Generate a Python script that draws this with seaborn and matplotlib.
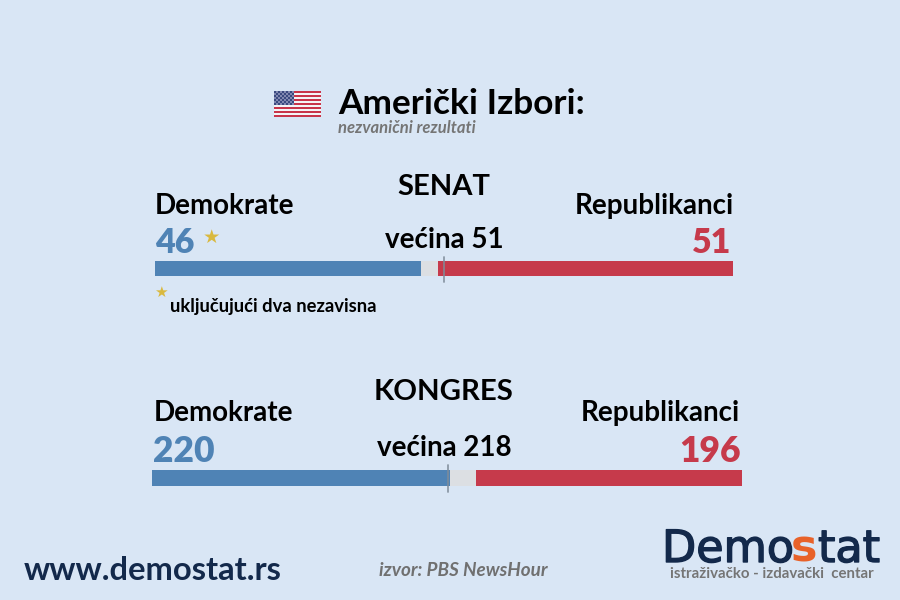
import numpy as np
import pandas as pd
import seaborn as sns
import matplotlib.pyplot as plt
import matplotlib.patheffects as pe
from matplotlib.colors import ListedColormap

# Seats
parties = ["Demokrate", "Republikanci"]
senate_seats = [46, 51]
senate_total = 100
senate_line = 50
house_seats = [220, 196]
house_total = 435
house_line = 218

BG = "#d9e6f5"
BLUE = "#4f83b5"
RED = "#c63a4b"
GRAY = "#dcdfe3"
NAVY = "#13294b"

sns.set_theme(style="white")
plt.rcParams["font.family"] = ["Lato", "DejaVu Sans"]

fig = plt.figure(figsize=(9, 6), dpi=100, facecolor=BG)


def txt(x, y, s, size, color="black", weight="bold", ha="left", **kw):
    # x, y are picture pixels, y is the baseline
    fig.text(x / 900, 1 - y / 600, s, fontsize=size, color=color, fontweight=weight,
             ha=ha, va="baseline", **kw)


def seat_bar(left, right, top, bottom, seats, total, line, line_top, line_bottom):
    ax = fig.add_axes([left / 900, 1 - bottom / 600, (right - left) / 900, (bottom - top) / 600])
    df = pd.DataFrame({"row": ["x"], "dem": [seats[0]], "rep": [seats[1]], "total": [total]})
    sns.barplot(data=df, x="total", y="row", color=GRAY, saturation=1, width=1, linewidth=0, ax=ax)
    sns.barplot(data=df, x="dem", y="row", color=BLUE, saturation=1, width=1, linewidth=0, ax=ax)
    sns.barplot(data=df, x="rep", y="row", color=RED, saturation=1, width=1, linewidth=0, ax=ax,
                left=total - seats[1])
    ax.set_xlim(0, total)
    ax.axis("off")
    # majority line sticks out of the bar
    pad_top = (top - line_top) / (bottom - top)
    pad_bottom = (line_bottom - bottom) / (bottom - top)
    ax.plot([line, line], [-pad_bottom, 1 + pad_top], transform=ax.get_xaxis_transform(),
            color="#7f8c99", lw=1.3, alpha=0.85, clip_on=False)


# Flag
flag_ax = fig.add_axes([274 / 900, 1 - 117 / 600, 47 / 900, 26 / 600])
flag = np.zeros((13, 24), dtype=int)
flag[1::2, :] = 1
flag[:7, :10] = 2
flag[:7, :10] += (np.indices((7, 10)).sum(axis=0) % 2)
sns.heatmap(flag, cmap=ListedColormap(["#c8354a", "#f4f4f6", "#3a4a80", "#8088b0"]),
            vmin=0, vmax=3, cbar=False, xticklabels=False, yticklabels=False, ax=flag_ax)

# Header
txt(338, 114, "Američki Izbori:", 25.4)
txt(338, 133, "nezvanični rezultati", 12, color="#757575", style="italic")

# Senat
txt(444, 195, "SENAT", 21, ha="center")
txt(155, 214, parties[0], 20)
txt(734, 214, parties[1], 20, ha="right")
txt(155, 253, str(senate_seats[0]), 24.5, color=BLUE, weight="heavy")
txt(731, 253, str(senate_seats[1]), 24.5, color=RED, ha="right", weight="heavy")
txt(444.5, 247.5, "većina 51", 20, ha="center")
txt(203, 243, "★", 14, color="#d9b93f", family="DejaVu Sans")
txt(154, 297, "★", 11, color="#d9b93f", family="DejaVu Sans")
txt(170, 312, "uključujući dva nezavisna", 13.2)
seat_bar(155, 733, 260, 277, senate_seats, senate_total, senate_line, 257, 282)

# Kongres
txt(444, 400, "KONGRES", 21.2, ha="center")
txt(154, 421, parties[0], 20)
txt(740, 421, parties[1], 20, ha="right")
txt(153, 462, str(house_seats[0]), 25.5, color=BLUE, weight="heavy")
txt(741, 462, str(house_seats[1]), 25.5, color=RED, ha="right", weight="heavy")
txt(444, 456.5, "većina 218", 20, ha="center")
seat_bar(152, 742, 469, 487, house_seats, house_total, house_line, 465, 492)

# Footer
txt(24, 580, "www.demostat.rs", 23.6, color=NAVY)
txt(379, 576.5, "izvor: PBS NewsHour", 13.6, color="#707070", style="italic")
# logo strokes are heavier than the regular weight
thick = [pe.withStroke(linewidth=1.0, foreground=NAVY)]
txt(662, 562, "Demo", 32, color=NAVY, weight="normal", family="DejaVu Sans", path_effects=thick)
txt(791, 562, "s", 32, color="#e8622a", weight="bold", family="DejaVu Sans")
txt(818, 562, "tat", 32, color=NAVY, weight="normal", family="DejaVu Sans", path_effects=thick)
txt(670, 578, "istraživačko - izdavački  centar", 10.8, color="#757575")

fig.savefig("out.png", dpi=100, facecolor=BG)
